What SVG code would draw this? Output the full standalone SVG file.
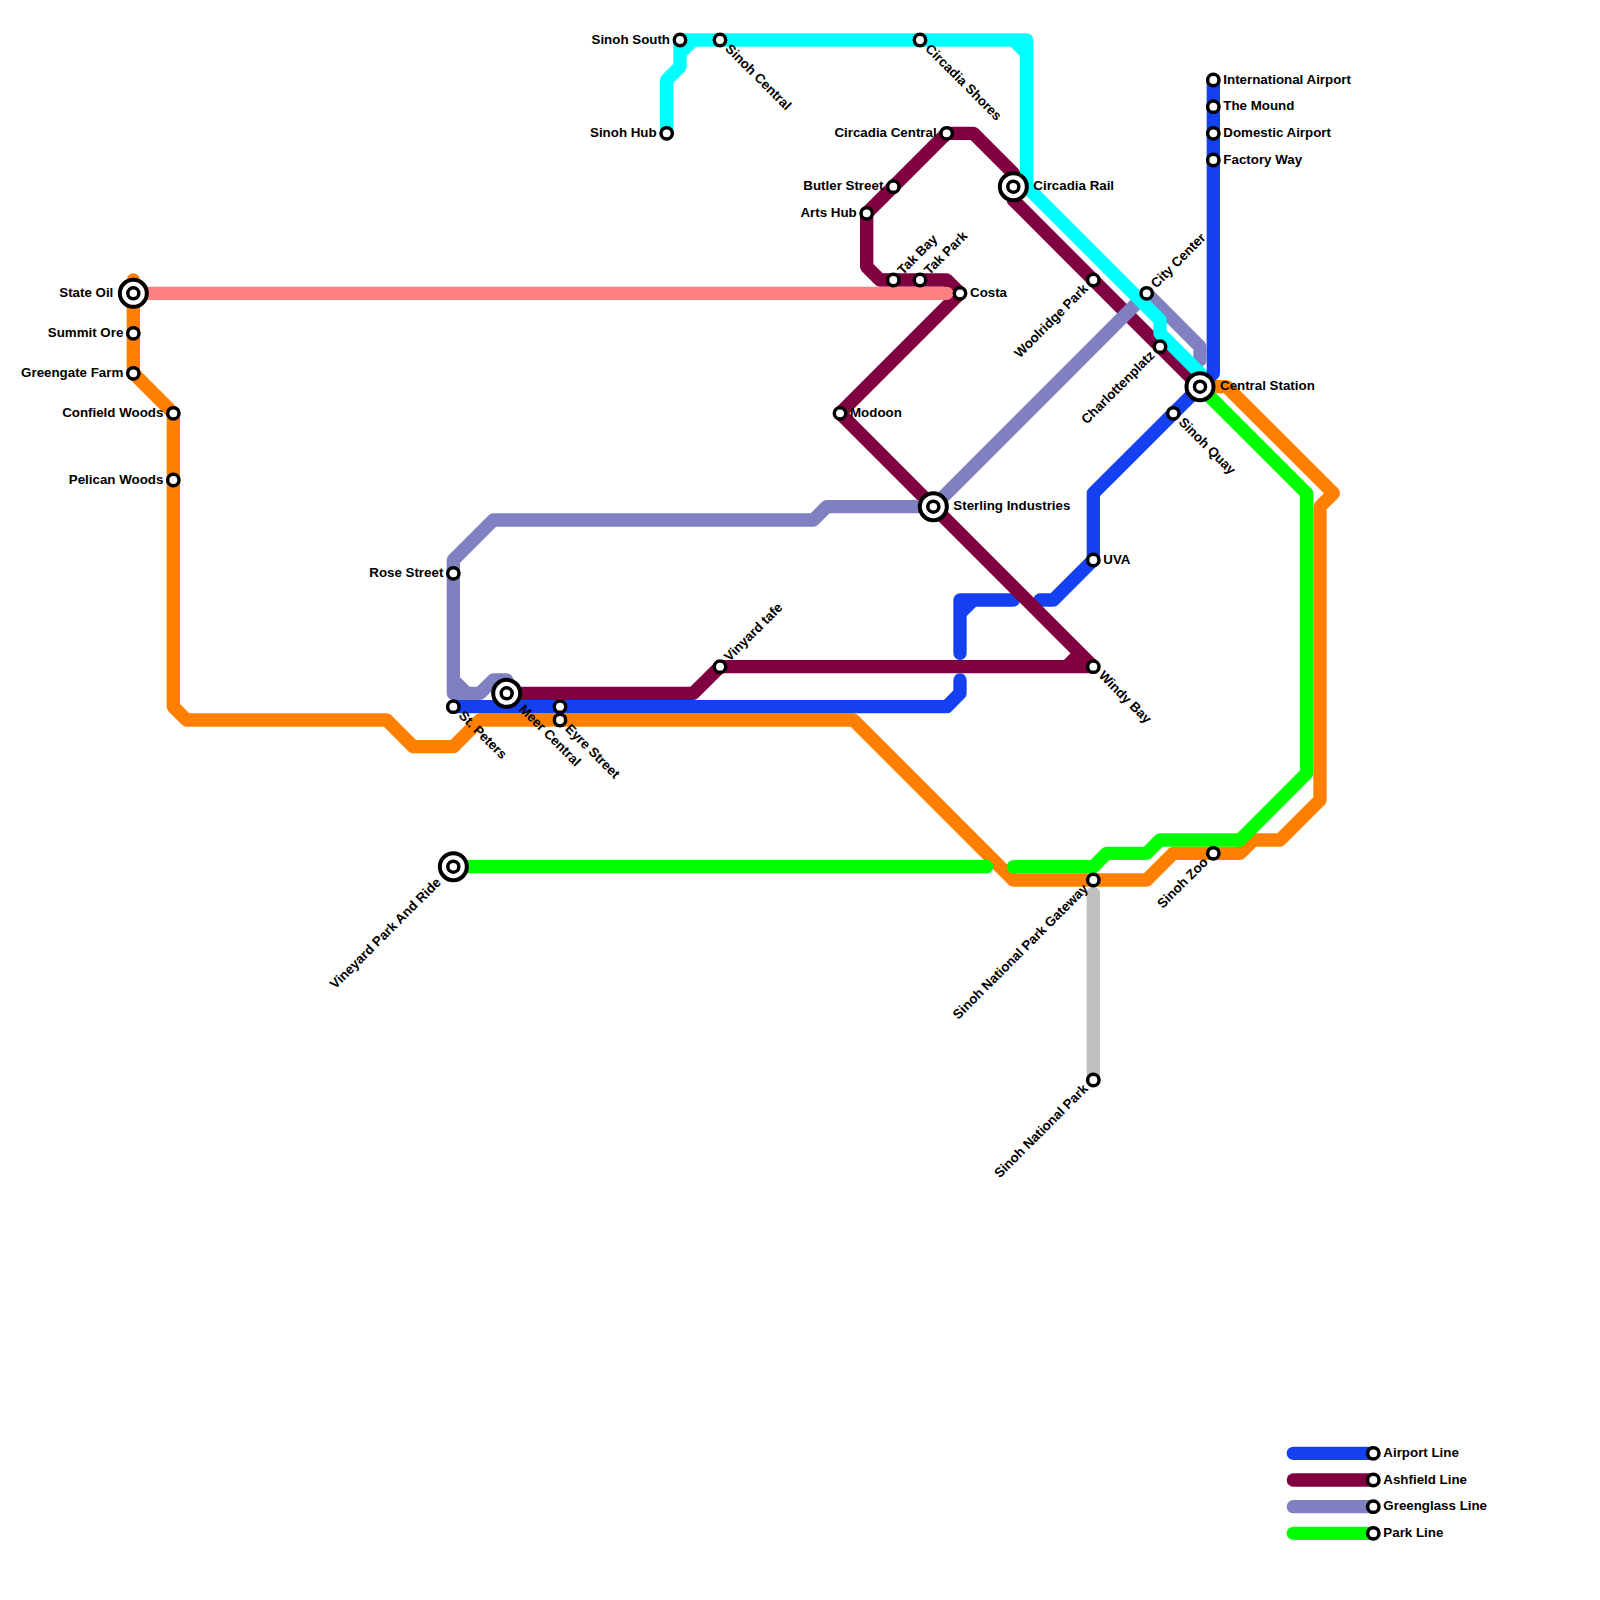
<svg xmlns="http://www.w3.org/2000/svg" width="1600" height="1600" viewBox="0 0 1600 1600">
<style>
.ln{fill:none;stroke-width:1;stroke-linecap:round;stroke-linejoin:round}
.o{stroke:#ff8000}.g{stroke:#00ff00}.b{stroke:#1540f0}.p{stroke:#800040}.v{stroke:#8080c0}.c{stroke:#00ffff}.k{stroke:#ff8080}.y{stroke:#c0c0c0}
.s{fill:#fff;stroke:#000;stroke-width:3.5}
.i1{fill:#fff;stroke:#000;stroke-width:4}
text{font-family:"Liberation Sans",Arial,sans-serif;font-size:13.33px;font-weight:bold;fill:#000}
.e{text-anchor:end}
</style>
<rect width="1600" height="1600" fill="#fff"/>
<defs>
<g id="st"><circle class="s" r="5.7"/></g>
<g id="ic"><circle class="i1" r="13.5"/><circle class="s" r="5.5"/></g>
</defs>
<g id="connectors" transform="scale(13.33333)">
<path class="ln y" d="M82 67V81"/>
<path class="ln o" d="M10 21V28L13 31V53L14 54H29L31 56H34L36 54H64L76 66H86L88 64H93L94 63H96L99 60V38L100 37L92 29H90"/>
<path class="ln g" d="M34 65H74M76 65H82L83 64H86L87 63H93L98 58V37L90 29"/>
<path class="ln b" d="M91 6V28L90 29L82 37V42L79 45H78M76 45H73L72 46V49M72 45H73M72 45V46M72 51V52L71 53H34"/>
<path class="ln p" d="M38 52H52L54 50H82L63 31L72 22L71 21H66L65 20V16L71 10H73L76 13V15L90 29M80 50L81 49"/>
<path class="ln v" d="M38 52V51H37L36 52H35L34 51V42L37 39H61L62 38H70L86 22L90 26V27M34 52H35M34 52V51"/>
<path class="ln c" d="M50 10V6L51 5V4L52 3H76L77 4V14L87 24V25L90 28M51 3H52M51 3V4M76 3H77M77 3V4"/>
<path class="ln k" d="M10 22H71"/>
<path class="ln b" d="M97 109H103"/>
<path class="ln p" d="M97 111H103"/>
<path class="ln v" d="M97 113H103"/>
<path class="ln g" d="M97 115H103"/>
</g>
<g id="n-state-oil" transform="translate(133.33,293.33)"><use href="#ic"/><text class="e" x="-20" y="3.5">State Oil</text></g>
<g id="n-summit-ore" transform="translate(133.33,333.33)"><use href="#st"/><text class="e" x="-10" y="3.5">Summit Ore</text></g>
<g id="n-greengate-farm" transform="translate(133.33,373.33)"><use href="#st"/><text class="e" x="-10" y="3.5">Greengate Farm</text></g>
<g id="n-confield-woods" transform="translate(173.33,413.33)"><use href="#st"/><text class="e" x="-10" y="3.5">Confield Woods</text></g>
<g id="n-pelican-woods" transform="translate(173.33,480)"><use href="#st"/><text class="e" x="-10" y="3.5">Pelican Woods</text></g>
<g id="n-rose-street" transform="translate(453.33,573.33)"><use href="#st"/><text class="e" x="-10" y="3.5">Rose Street</text></g>
<g id="n-st-peters" transform="translate(453.33,706.67)"><use href="#st"/><text x="10" y="3.5" transform="rotate(45)">St. Peters</text></g>
<g id="n-meer-central" transform="translate(506.67,693.33)"><use href="#ic"/><text x="20" y="3.5" transform="rotate(45)">Meer Central</text></g>
<g id="n-eyre-a" transform="translate(560,706.67)"><use href="#st"/></g>
<g id="n-eyre-street" transform="translate(560,720)"><use href="#st"/><text x="10" y="3.5" transform="rotate(45)">Eyre Street</text></g>
<g id="n-vinyard-tafe" transform="translate(720,666.67)"><use href="#st"/><text x="10" y="3.5" transform="rotate(-45)">Vinyard tafe</text></g>
<g id="n-vineyard-park" transform="translate(453.33,866.67)"><use href="#ic"/><text class="e" x="-20" y="3.5" transform="rotate(-45)">Vineyard Park And Ride</text></g>
<g id="n-sinoh-south" transform="translate(680,40)"><use href="#st"/><text class="e" x="-10" y="3.5">Sinoh South</text></g>
<g id="n-sinoh-central" transform="translate(720,40)"><use href="#st"/><text x="10" y="3.5" transform="rotate(45)">Sinoh Central</text></g>
<g id="n-sinoh-hub" transform="translate(666.67,133.33)"><use href="#st"/><text class="e" x="-10" y="3.5">Sinoh Hub</text></g>
<g id="n-circadia-shores" transform="translate(920,40)"><use href="#st"/><text x="10" y="3.5" transform="rotate(45)">Circadia Shores</text></g>
<g id="n-circadia-central" transform="translate(946.67,133.33)"><use href="#st"/><text class="e" x="-10" y="3.5">Circadia Central</text></g>
<g id="n-butler-street" transform="translate(893.33,186.67)"><use href="#st"/><text class="e" x="-10" y="3.5">Butler Street</text></g>
<g id="n-arts-hub" transform="translate(866.67,213.33)"><use href="#st"/><text class="e" x="-10" y="3.5">Arts Hub</text></g>
<g id="n-tak-bay" transform="translate(893.33,280)"><use href="#st"/><text x="10" y="3.5" transform="rotate(-45)">Tak Bay</text></g>
<g id="n-tak-park" transform="translate(920,280)"><use href="#st"/><text x="10" y="3.5" transform="rotate(-45)">Tak Park</text></g>
<g id="n-costa" transform="translate(960,293.33)"><use href="#st"/><text x="10" y="3.5">Costa</text></g>
<g id="n-circadia-rail" transform="translate(1013.33,186.67)"><use href="#ic"/><text x="20" y="3.5">Circadia Rail</text></g>
<g id="n-woolridge-park" transform="translate(1093.33,280)"><use href="#st"/><text class="e" x="-10" y="3.5" transform="rotate(-45)">Woolridge Park</text></g>
<g id="n-city-center" transform="translate(1146.67,293.33)"><use href="#st"/><text x="10" y="3.5" transform="rotate(-45)">City Center</text></g>
<g id="n-charlottenplatz" transform="translate(1160,346.67)"><use href="#st"/><text class="e" x="-10" y="3.5" transform="rotate(-45)">Charlottenplatz</text></g>
<g id="n-central-station" transform="translate(1200,386.67)"><use href="#ic"/><text x="20" y="3.5">Central Station</text></g>
<g id="n-sinoh-quay" transform="translate(1173.33,413.33)"><use href="#st"/><text x="10" y="3.5" transform="rotate(45)">Sinoh Quay</text></g>
<g id="n-modoon" transform="translate(840,413.33)"><use href="#st"/><text x="10" y="3.5">Modoon</text></g>
<g id="n-sterling" transform="translate(933.33,506.67)"><use href="#ic"/><text x="20" y="3.5">Sterling Industries</text></g>
<g id="n-uva" transform="translate(1093.33,560)"><use href="#st"/><text x="10" y="3.5">UVA</text></g>
<g id="n-windy-bay" transform="translate(1093.33,666.67)"><use href="#st"/><text x="10" y="3.5" transform="rotate(45)">Windy Bay</text></g>
<g id="n-gateway" transform="translate(1093.33,880)"><use href="#st"/><text class="e" x="-10" y="3.5" transform="rotate(-45)">Sinoh National Park Gateway</text></g>
<g id="n-national-park" transform="translate(1093.33,1080)"><use href="#st"/><text class="e" x="-10" y="3.5" transform="rotate(-45)">Sinoh National Park</text></g>
<g id="n-sinoh-zoo" transform="translate(1213.33,853.33)"><use href="#st"/><text class="e" x="-10" y="3.5" transform="rotate(-45)">Sinoh Zoo</text></g>
<g id="n-international" transform="translate(1213.33,80)"><use href="#st"/><text x="10" y="3.5">International Airport</text></g>
<g id="n-mound" transform="translate(1213.33,106.67)"><use href="#st"/><text x="10" y="3.5">The Mound</text></g>
<g id="n-domestic" transform="translate(1213.33,133.33)"><use href="#st"/><text x="10" y="3.5">Domestic Airport</text></g>
<g id="n-factory" transform="translate(1213.33,160)"><use href="#st"/><text x="10" y="3.5">Factory Way</text></g>
<g id="l-airport" transform="translate(1373.33,1453.33)"><use href="#st"/><text x="10" y="3.5">Airport Line</text></g>
<g id="l-ashfield" transform="translate(1373.33,1480)"><use href="#st"/><text x="10" y="3.5">Ashfield Line</text></g>
<g id="l-greenglass" transform="translate(1373.33,1506.67)"><use href="#st"/><text x="10" y="3.5">Greenglass Line</text></g>
<g id="l-park" transform="translate(1373.33,1533.33)"><use href="#st"/><text x="10" y="3.5">Park Line</text></g>
</svg>
